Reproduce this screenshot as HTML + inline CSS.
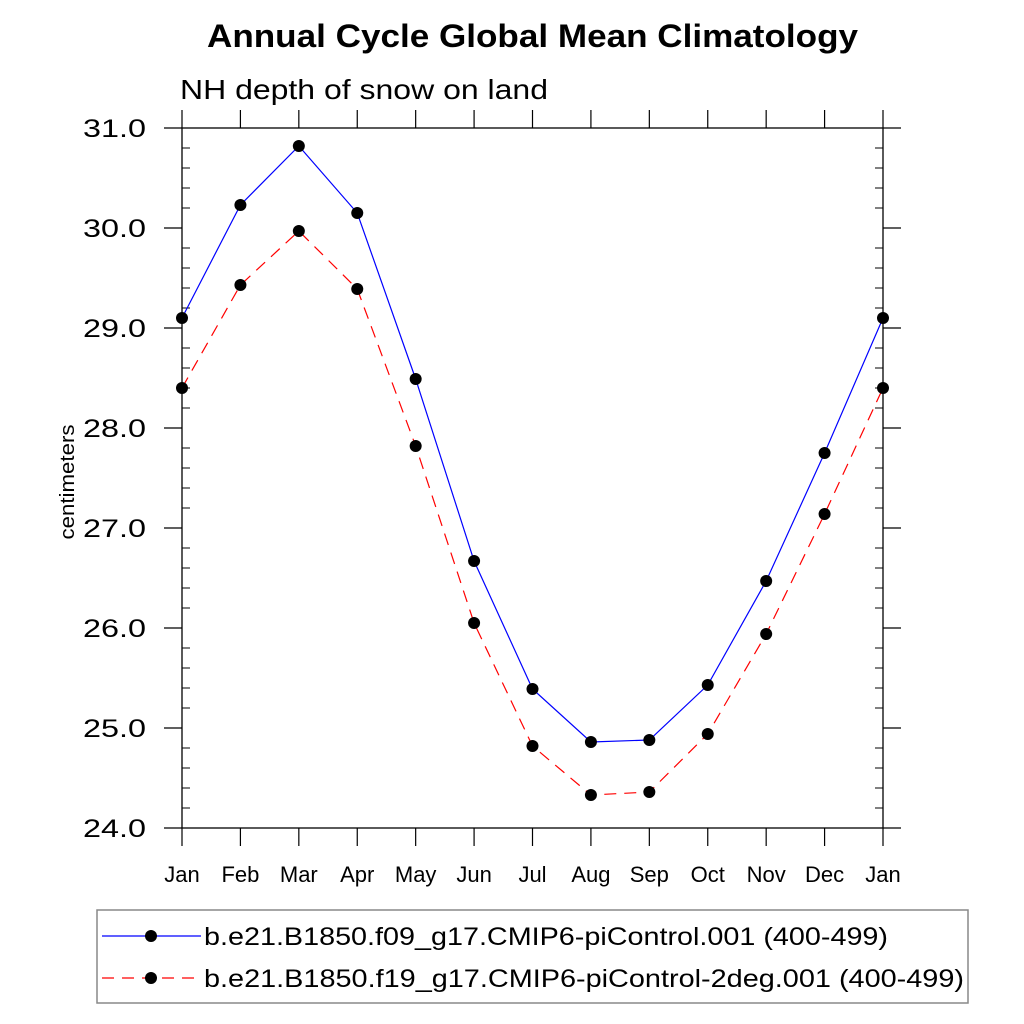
<!DOCTYPE html>
<html><head><meta charset="utf-8"><style>body{margin:0;background:#fff}svg{display:block;font-family:"Liberation Sans",Arial,sans-serif}</style></head>
<body>
<svg id="c" width="1024" height="1024" viewBox="0 0 1024 1024">
<text x="207" y="47" font-size="32" font-weight="bold" textLength="651" lengthAdjust="spacingAndGlyphs">Annual Cycle Global Mean Climatology</text>
<text x="180" y="99" font-size="28" textLength="368" lengthAdjust="spacingAndGlyphs">NH depth of snow on land</text>
<text transform="translate(74,482) rotate(-90)" font-size="20" text-anchor="middle" textLength="115" lengthAdjust="spacingAndGlyphs">centimeters</text>
<g id="axes"></g>
<g id="series"></g>
<g>
<rect x="97" y="910" width="871" height="93" fill="none" stroke="#888" stroke-width="1.5"/>
<line x1="102" y1="936" x2="201" y2="936" stroke="#00f" stroke-width="1.2"/>
<circle cx="151" cy="936" r="6" fill="#000"/>
<text x="204" y="945" font-size="25" textLength="684" lengthAdjust="spacingAndGlyphs">b.e21.B1850.f09_g17.CMIP6-piControl.001 (400-499)</text>
<line x1="102" y1="978" x2="201" y2="978" stroke="#f00" stroke-width="1.2" stroke-dasharray="12,8"/>
<circle cx="151" cy="978" r="6" fill="#000"/>
<text x="204" y="987" font-size="25" textLength="760" lengthAdjust="spacingAndGlyphs">b.e21.B1850.f19_g17.CMIP6-piControl-2deg.001 (400-499)</text>
</g>
</svg>
<script>
const months=["Jan","Feb","Mar","Apr","May","Jun","Jul","Aug","Sep","Oct","Nov","Dec","Jan"];
const blueVals=[29.1,30.23,30.82,30.15,28.49,26.67,25.39,24.86,24.88,25.43,26.47,27.75,29.1];
const redVals=[28.4,29.43,29.97,29.39,27.82,26.05,24.82,24.33,24.36,24.94,25.94,27.14,28.4];
const yTicks=[24,25,26,27,28,29,30,31];
const L=182,R=883,T=128,B=828,yMin=24,yMax=31;
const xs=i=>L+(R-L)*i/(months.length-1);
const ys=v=>B-(B-T)*(v-yMin)/(yMax-yMin);
const NS="http://www.w3.org/2000/svg";
function mk(t,a,p){const e=document.createElementNS(NS,t);for(const k in a)e.setAttribute(k,a[k]);p.appendChild(e);return e;}
const ax=document.getElementById('axes');
const fr=mk('rect',{x:L,y:T,width:R-L,height:B-T,fill:'none',stroke:'#000','stroke-width':1.3},ax);


months.forEach((m,i)=>{const x=xs(i);
mk('line',{x1:x,y1:T-18,x2:x,y2:T,stroke:'#000','stroke-width':1.2},ax);
mk('line',{x1:x,y1:B,x2:x,y2:B+18,stroke:'#000','stroke-width':1.2},ax);
const t=mk('text',{x:x,y:882,'font-size':22,'text-anchor':'middle'},ax);t.textContent=m;


});
yTicks.forEach(v=>{const y=ys(v);
mk('line',{x1:L-18,y1:y,x2:L,y2:y,stroke:'#000','stroke-width':1.2},ax);
mk('line',{x1:R,y1:y,x2:R+18,y2:y,stroke:'#000','stroke-width':1.2},ax);
const t=mk('text',{x:146,y:y+9,'font-size':25,'text-anchor':'end',textLength:63,lengthAdjust:'spacingAndGlyphs'},ax);t.textContent=v.toFixed(1);


});
for(let k=0;k<=35;k++){if(k%5==0)continue;const y=ys(yMin+k*0.2);
mk('line',{x1:L,y1:y,x2:L+8,y2:y,stroke:'#000','stroke-width':1},ax);
mk('line',{x1:R-8,y1:y,x2:R,y2:y,stroke:'#000','stroke-width':1},ax);}
const sg=document.getElementById('series');
function series(vals,color,dash,name){
const p=mk('polyline',{points:vals.map((v,i)=>xs(i)+','+ys(v)).join(' '),fill:'none',stroke:color,'stroke-width':1.2,'stroke-dasharray':dash},sg);


vals.forEach((v,i)=>{const c=mk('circle',{cx:xs(i),cy:ys(v),r:6,fill:'#000'},sg);

});
}
series(blueVals,'#00f','none','f09-series');
series(redVals,'#f00','12,8','f19-series');
</script>
</body></html>
